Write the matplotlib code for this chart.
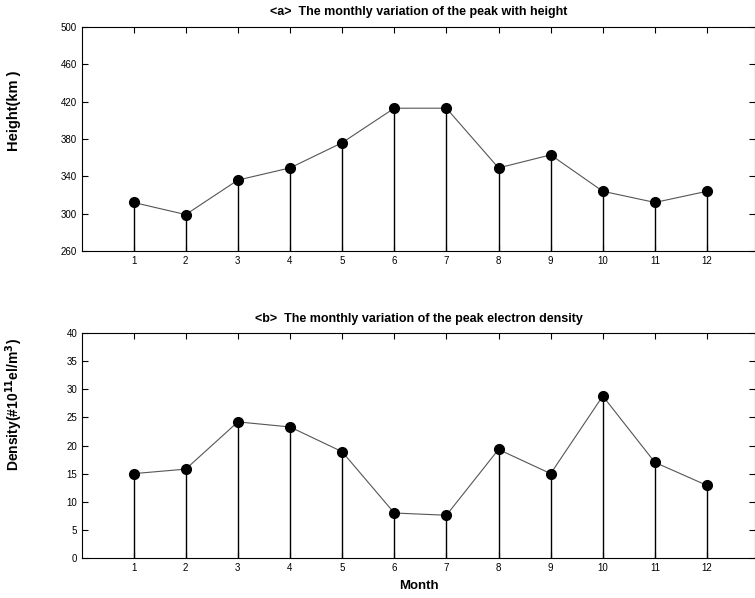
import matplotlib
matplotlib.use("Agg")
import matplotlib.pyplot as plt

months = [1, 2, 3, 4, 5, 6, 7, 8, 9, 10, 11, 12]
height_km = [312, 299, 336, 349, 376, 413, 413, 349, 363, 324, 312, 324]
density = [15.0, 15.8, 24.2, 23.3, 18.9, 8.0, 7.6, 19.3, 15.0, 28.8, 17.0, 12.9]

title_a = "<a>  The monthly variation of the peak with height"
title_b = "<b>  The monthly variation of the peak electron density"
ylabel_a = "Height(km )"
ylabel_b = r"Density(#10$^{\mathbf{11}}$el/m$^{\mathbf{3}}$)"
xlabel_b = "Month"

plt.rcParams['font.family'] = ['Liberation Sans', 'DejaVu Sans']

fig = plt.figure(figsize=(7.55, 5.98), dpi=100)
ax1 = fig.add_axes([0.1086, 0.5803, 0.8914, 0.3745])
ax2 = fig.add_axes([0.1086, 0.0669, 0.8914, 0.3762])

def draw(ax, y, base, ylim, yticks):
    ax.vlines(months, base, y, colors='black', linewidth=1.0)
    ax.plot(months, y, color='#555555', linewidth=0.8)
    ax.plot(months, y, 'o', color='black', markersize=7)
    ax.set_xlim(0.01, 12.92)
    ax.set_ylim(*ylim)
    ax.set_xticks(months)
    ax.set_yticks(yticks)
    ax.tick_params(direction='in', top=True, right=True, labelsize=7, length=4, width=0.8)
    for s in ax.spines.values():
        s.set_linewidth(0.8)

draw(ax1, height_km, 260, (260, 500), [260, 300, 340, 380, 420, 460, 500])
draw(ax2, density, 0, (0, 40), [0, 5, 10, 15, 20, 25, 30, 35, 40])

ax1.set_title(title_a, fontsize=9, fontweight='bold', pad=9)
ax2.set_title(title_b, fontsize=9, fontweight='bold', pad=8)
ax1.set_ylabel(ylabel_a, fontsize=10.5, fontweight='bold')
ax2.set_ylabel(ylabel_b, fontsize=10, fontweight='bold')
ax1.yaxis.set_label_coords(-0.0906, 0.625)
ax2.yaxis.set_label_coords(-0.0847, 0.68)
ax2.set_xlabel(xlabel_b, fontsize=9.5, fontweight='bold', labelpad=5)

fig.savefig("out.png", dpi=100)
